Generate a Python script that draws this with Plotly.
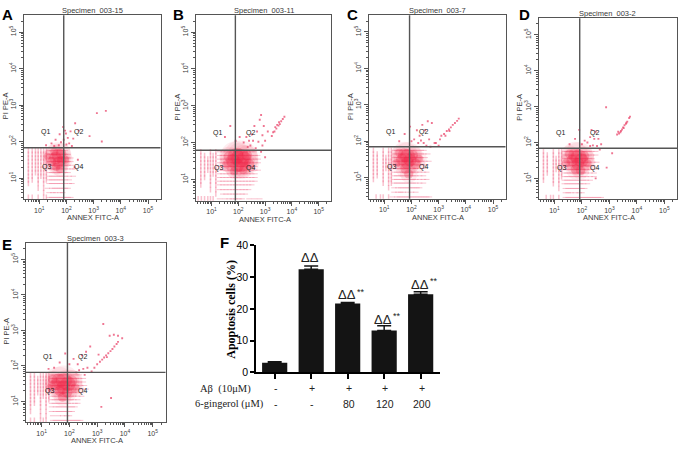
import plotly.graph_objects as go

W, H = 680, 452
RANGE = [0.42, 5.46]
DECADES = [1, 2, 3, 4, 5]

names = ["A", "B", "C", "D", "E"]
titles = ["Specimen_003-15", "Specimen_003-11", "Specimen_003-7", "Specimen_003-2", "Specimen_003-3"]
gate_x = [1.90, 1.89, 1.93, 1.92, 1.93]
gate_y = [1.83, 1.79, 1.85, 1.84, 1.82]

# lattice rows: y level (log10) and the x positions (log10) seen along it
row_y = [1.75, 1.65, 1.55, 1.45, 1.35, 1.25, 1.15, 1.05, 0.95, 0.85, 0.72, 0.60, 0.47]

A_rows = [
    [.6, .74, .86, .96, 1.06, 1.16, 1.26, 1.36, 1.46, 1.56, 1.66, 1.76, 1.86, 1.96],
    [.6, .74, .86, .96, 1.06, 1.16, 1.26, 1.36, 1.46, 1.56, 1.66, 1.76, 1.86, 1.96, 2.06],
    [.6, .74, .86, .96, 1.06, 1.16, 1.26, 1.36, 1.46, 1.56, 1.66, 1.76, 1.86, 1.96, 2.06, 2.16],
    [.6, .74, .86, .96, 1.06, 1.16, 1.26, 1.36, 1.46, 1.56, 1.66, 1.76, 1.86, 1.96, 2.06, 2.16],
    [.6, .74, .86, .96, 1.06, 1.16, 1.26, 1.36, 1.46, 1.56, 1.66, 1.76, 1.86, 1.96, 2.06, 2.2],
    [.6, .74, .86, .96, 1.06, 1.16, 1.26, 1.36, 1.46, 1.56, 1.66, 1.76, 1.86, 1.96, 2.06, 2.2, 2.3],
    [.6, .74, .86, .96, 1.06, 1.16, 1.26, 1.36, 1.46, 1.56, 1.66, 1.76, 1.86, 1.96, 2.06],
    [.6, .74, .96, 1.06, 1.16, 1.26, 1.36, 1.46, 1.56, 1.66, 1.76, 1.86, 1.96, 2.1, 2.25],
    [.6, .74, .96, 1.16, 1.26, 1.36, 1.46, 1.56, 1.66, 1.76, 1.86, 1.96, 2.1],
    [.6, .96, 1.16, 1.36, 1.46, 1.56, 1.66, 1.76, 1.86, 1.96, 2.1, 2.2],
    [.96, 1.16, 1.3, 1.46, 1.56, 1.66, 1.76, 1.86, 1.96, 2.06],
    [1.16, 1.36, 1.5, 1.6, 1.76, 1.86],
    [.6, .74, .96, 1.16, 1.26, 1.36, 1.46, 1.56, 1.66, 1.76, 1.86, 1.96, 2.06, 2.16],
]
B_rows = [
    [.6, .96, 1.16, 1.3, 1.42, 1.54, 1.66, 1.78, 1.9, 2.02, 2.14, 2.26, 2.38, 2.5, 2.6],
    [.6, .74, .96, 1.06, 1.16, 1.3, 1.42, 1.54, 1.66, 1.78, 1.9, 2.02, 2.14, 2.26, 2.38, 2.5, 2.62, 2.72],
    [.6, .74, .86, .96, 1.06, 1.16, 1.3, 1.42, 1.54, 1.66, 1.78, 1.9, 2.02, 2.14, 2.26, 2.38, 2.5, 2.62, 2.74],
    [.6, .74, .86, .96, 1.06, 1.16, 1.3, 1.42, 1.54, 1.66, 1.78, 1.9, 2.02, 2.14, 2.26, 2.38, 2.5, 2.62, 2.74],
    [.6, .74, .86, .96, 1.06, 1.16, 1.3, 1.42, 1.54, 1.66, 1.78, 1.9, 2.02, 2.14, 2.26, 2.38, 2.5, 2.62],
    [.6, .74, .86, .96, 1.06, 1.16, 1.3, 1.42, 1.54, 1.66, 1.78, 1.9, 2.02, 2.14, 2.26, 2.38, 2.5, 2.62, 2.74],
    [.6, .74, .96, 1.06, 1.16, 1.3, 1.42, 1.54, 1.66, 1.78, 1.9, 2.02, 2.14, 2.26, 2.38, 2.5, 2.62],
    [.6, .74, .96, 1.16, 1.3, 1.42, 1.54, 1.66, 1.78, 1.9, 2.02, 2.14, 2.26, 2.38, 2.5, 2.62],
    [.6, .96, 1.16, 1.3, 1.42, 1.54, 1.66, 1.78, 1.9, 2.02, 2.14, 2.26, 2.38, 2.5, 2.62],
    [.6, .96, 1.16, 1.3, 1.42, 1.54, 1.66, 1.78, 1.9, 2.02, 2.14, 2.26, 2.38, 2.5],
    [.96, 1.16, 1.3, 1.42, 1.54, 1.66, 1.78, 1.9, 2.02, 2.14, 2.26, 2.38],
    [1.16, 1.42, 1.54, 1.66, 1.78, 1.9, 2.02, 2.14, 2.26],
    [.5, .62, .74, .86, .96, 1.06, 1.3, 1.5, 1.66, 1.78, 1.9, 2.02, 2.14, 2.4, 2.6, 2.8],
]
C_rows = [
    [.6, .96, 1.16, 1.26, 1.36, 1.46, 1.56, 1.66, 1.76, 1.86, 1.96, 2.06, 2.16, 2.26, 2.36, 2.46],
    [.6, .74, .96, 1.16, 1.26, 1.36, 1.46, 1.56, 1.66, 1.76, 1.86, 1.96, 2.06, 2.16, 2.26, 2.36, 2.46, 2.6],
    [.6, .74, .96, 1.06, 1.16, 1.26, 1.36, 1.46, 1.56, 1.66, 1.76, 1.86, 1.96, 2.06, 2.16, 2.26, 2.36, 2.5],
    [.6, .74, .96, 1.06, 1.16, 1.26, 1.36, 1.46, 1.56, 1.66, 1.76, 1.86, 1.96, 2.06, 2.16, 2.26, 2.36, 2.5, 2.64],
    [.6, .74, .96, 1.06, 1.16, 1.26, 1.36, 1.46, 1.56, 1.66, 1.76, 1.86, 1.96, 2.06, 2.16, 2.26, 2.4, 2.54],
    [.6, .74, .96, 1.06, 1.16, 1.26, 1.36, 1.46, 1.56, 1.66, 1.76, 1.86, 1.96, 2.06, 2.16, 2.3, 2.44],
    [.6, .74, .96, 1.16, 1.26, 1.36, 1.46, 1.56, 1.66, 1.76, 1.86, 1.96, 2.06, 2.16, 2.3, 2.44, 2.56],
    [.6, .74, .96, 1.16, 1.26, 1.36, 1.46, 1.56, 1.66, 1.76, 1.86, 1.96, 2.06, 2.16, 2.3, 2.44],
    [.6, .96, 1.16, 1.26, 1.36, 1.46, 1.56, 1.66, 1.76, 1.86, 1.96, 2.06, 2.16, 2.3, 2.44, 2.56],
    [.96, 1.16, 1.26, 1.36, 1.46, 1.56, 1.66, 1.76, 1.86, 1.96, 2.06, 2.16, 2.3, 2.44],
    [1.16, 1.36, 1.5, 1.6, 1.7, 1.8, 1.9, 2.0, 2.1, 2.2, 2.3],
    [1.36, 1.5, 1.6, 1.7, 1.86, 2.0, 2.16],
    [.7, .86, .96, 1.16, 1.3, 1.46, 1.56, 1.66, 1.76, 1.86, 1.96, 2.06, 2.16, 2.26, 2.36, 2.46, 2.56, 2.66],
]
D_rows = [
    [.6, .96, 1.16, 1.26, 1.36, 1.46, 1.56, 1.66, 1.76, 1.86, 1.96, 2.06, 2.16, 2.26, 2.36, 2.5],
    [.6, .74, .96, 1.16, 1.26, 1.36, 1.46, 1.56, 1.66, 1.76, 1.86, 1.96, 2.06, 2.16, 2.26, 2.36, 2.5],
    [.6, .74, .96, 1.06, 1.16, 1.26, 1.36, 1.46, 1.56, 1.66, 1.76, 1.86, 1.96, 2.06, 2.16, 2.26, 2.36],
    [.6, .74, .96, 1.06, 1.16, 1.26, 1.36, 1.46, 1.56, 1.66, 1.76, 1.86, 1.96, 2.06, 2.16, 2.26, 2.4, 2.54],
    [.6, .74, .96, 1.06, 1.16, 1.26, 1.36, 1.46, 1.56, 1.66, 1.76, 1.86, 1.96, 2.06, 2.16, 2.26, 2.4],
    [.6, .74, .96, 1.06, 1.16, 1.26, 1.36, 1.46, 1.56, 1.66, 1.76, 1.86, 1.96, 2.06, 2.16, 2.3, 2.44],
    [.6, .74, .96, 1.16, 1.26, 1.36, 1.46, 1.56, 1.66, 1.76, 1.86, 1.96, 2.06, 2.16, 2.3, 2.44],
    [.6, .96, 1.16, 1.26, 1.36, 1.46, 1.56, 1.66, 1.76, 1.86, 1.96, 2.06, 2.16, 2.3, 2.44],
    [.6, .96, 1.16, 1.36, 1.46, 1.56, 1.66, 1.76, 1.86, 1.96, 2.06, 2.16, 2.3],
    [.96, 1.16, 1.36, 1.46, 1.56, 1.66, 1.76, 1.86, 1.96, 2.06, 2.2],
    [1.16, 1.4, 1.5, 1.6, 1.7, 1.8, 1.9, 2.0, 2.1],
    [1.4, 1.5, 1.6, 1.76, 1.9, 2.0],
    [.7, .86, .96, 1.16, 1.4, 1.5, 1.6, 1.7, 1.8, 1.9, 2.0, 2.1, 2.2, 2.3, 2.4, 2.5, 2.6, 2.7],
]
E_rows = [
    [.6, .74, .96, 1.06, 1.16, 1.26, 1.36, 1.46, 1.56, 1.66, 1.76, 1.86, 1.96, 2.06, 2.16, 2.26, 2.36],
    [.6, .74, .86, .96, 1.06, 1.16, 1.26, 1.36, 1.46, 1.56, 1.66, 1.76, 1.86, 1.96, 2.06, 2.16, 2.26, 2.36, 2.5],
    [.6, .74, .86, .96, 1.06, 1.16, 1.26, 1.36, 1.46, 1.56, 1.66, 1.76, 1.86, 1.96, 2.06, 2.16, 2.26, 2.36, 2.5],
    [.6, .74, .86, .96, 1.06, 1.16, 1.26, 1.36, 1.46, 1.56, 1.66, 1.76, 1.86, 1.96, 2.06, 2.16, 2.26, 2.4, 2.54],
    [.6, .74, .86, .96, 1.06, 1.16, 1.26, 1.36, 1.46, 1.56, 1.66, 1.76, 1.86, 1.96, 2.06, 2.16, 2.3, 2.44, 2.6],
    [.6, .74, .86, .96, 1.06, 1.16, 1.26, 1.36, 1.46, 1.56, 1.66, 1.76, 1.86, 1.96, 2.06, 2.16, 2.3, 2.44],
    [.6, .74, .96, 1.06, 1.16, 1.26, 1.36, 1.46, 1.56, 1.66, 1.76, 1.86, 1.96, 2.06, 2.16, 2.3, 2.44],
    [.6, .74, .96, 1.16, 1.26, 1.36, 1.46, 1.56, 1.66, 1.76, 1.86, 1.96, 2.06, 2.16, 2.3],
    [.6, .74, .96, 1.16, 1.36, 1.46, 1.56, 1.66, 1.76, 1.86, 1.96, 2.06, 2.2, 2.3],
    [.6, .96, 1.16, 1.36, 1.5, 1.6, 1.7, 1.8, 1.9, 2.0, 2.1, 2.2],
    [.6, .96, 1.16, 1.36, 1.5, 1.6, 1.7, 1.8, 1.9, 2.0, 2.1],
    [.96, 1.16, 1.4, 1.6, 1.76, 1.9, 2.0],
    [.6, .74, .96, 1.06, 1.16, 1.4, 1.5, 1.6, 1.7, 1.8, 1.9, 2.0, 2.1, 2.2, 2.3, 2.4],
]

# dense core of each cloud: centre (log10) and relative weight
A_core_x = [1.70, 1.60, 1.80, 1.70, 1.55, 1.82, 1.45, 1.62, 1.76, 1.30, 1.95]
A_core_y = [1.62, 1.55, 1.68, 1.42, 1.72, 1.48, 1.45, 1.30, 1.25, 1.60, 1.50]
A_core_s = [12, 11, 9, 10, 7, 8, 8, 7, 7, 6, 7]
B_core_x = [2.08, 1.90, 2.22, 1.80, 2.10, 1.95, 2.32, 1.65, 2.00, 2.40, 1.55, 1.85, 2.18]
B_core_y = [1.58, 1.62, 1.55, 1.50, 1.40, 1.38, 1.66, 1.62, 1.72, 1.42, 1.40, 1.22, 1.25]
B_core_s = [16, 14, 13, 12, 13, 12, 9, 9, 9, 9, 7, 7, 7]
C_core_x = [1.86, 1.75, 1.95, 1.85, 1.65, 2.05, 1.78, 1.55, 2.15, 1.90, 1.45, 2.28]
C_core_y = [1.58, 1.62, 1.48, 1.40, 1.50, 1.62, 1.25, 1.68, 1.38, 1.10, 1.40, 1.52]
C_core_s = [13, 12, 11, 11, 10, 9, 9, 7, 9, 8, 7, 7]
D_core_x = [1.88, 1.75, 1.98, 1.85, 1.65, 2.08, 1.55, 1.78, 1.95, 1.42, 2.20]
D_core_y = [1.58, 1.65, 1.50, 1.40, 1.50, 1.62, 1.68, 1.25, 1.22, 1.42, 1.42]
D_core_s = [14, 12, 12, 11, 10, 9, 8, 9, 8, 7, 7]
E_core_x = [1.80, 1.62, 1.95, 1.78, 1.50, 2.08, 1.65, 1.92, 1.40, 2.20, 1.75, 1.30]
E_core_y = [1.58, 1.58, 1.50, 1.40, 1.48, 1.58, 1.30, 1.26, 1.62, 1.38, 1.12, 1.40]
E_core_s = [14, 13, 13, 12, 10, 10, 9, 9, 8, 8, 8, 6]

# scattered events outside the lattice
A_sc_x = [3.12, 3.45, 2.32, 2.45, 2.85, 3.30, 1.88, 1.75, 1.98, 2.15, 2.25, 2.05, 1.60, 1.45, 1.80, 2.00, 2.10, 1.90, 2.20, 1.25, 1.55, 1.72, 1.95, 2.30, 2.42]
A_sc_y = [2.78, 2.84, 2.50, 2.30, 2.15, 2.00, 2.40, 2.20, 2.22, 2.28, 2.08, 2.10, 2.05, 1.95, 1.98, 1.92, 1.95, 2.05, 1.88, 1.90, 1.88, 1.90, 2.30, 1.30, 1.50]
B_sc_x = [3.25, 3.35, 3.42, 3.50, 3.55, 3.60, 3.66, 3.72, 3.45, 3.38, 3.52, 3.30, 3.10, 2.95, 2.80, 2.70, 2.60, 2.50, 2.40, 2.30, 2.20, 2.55, 2.75, 2.90, 2.45, 2.65, 2.35, 2.85, 1.70, 1.50, 1.90, 2.05, 2.90, 3.00, 2.85, 3.00]
B_sc_y = [2.18, 2.30, 2.38, 2.46, 2.50, 2.58, 2.64, 2.70, 2.48, 2.42, 2.55, 2.28, 2.30, 2.45, 2.62, 2.30, 2.45, 2.22, 2.05, 2.15, 2.00, 2.05, 2.02, 1.92, 1.92, 1.85, 1.88, 1.75, 2.45, 2.15, 2.05, 2.15, 2.20, 2.05, 2.75, 1.60]
C_sc_x = [3.10, 3.20, 3.30, 3.38, 3.45, 3.52, 3.60, 3.68, 3.74, 3.25, 3.40, 3.05, 2.90, 2.75, 2.60, 2.50, 2.40, 2.30, 2.20, 2.10, 1.95, 1.75, 1.55, 2.85, 2.65, 2.45, 2.35, 2.70, 2.55, 3.00, 2.00, 2.25]
C_sc_y = [2.15, 2.20, 2.28, 2.32, 2.38, 2.45, 2.50, 2.56, 2.62, 2.15, 2.28, 2.05, 1.95, 2.50, 2.55, 2.30, 2.45, 2.15, 2.30, 2.05, 2.40, 2.20, 2.00, 1.95, 2.05, 1.95, 2.02, 1.85, 1.88, 1.88, 2.00, 1.95]
D_sc_x = [3.28, 3.35, 3.42, 3.46, 3.50, 3.55, 3.60, 3.65, 3.72, 3.75, 3.40, 3.52, 3.32, 3.62, 2.88, 2.35, 2.50, 2.60, 2.45, 2.30, 2.20, 2.10, 2.00, 1.90, 1.75, 1.55, 2.70, 2.55, 2.40, 2.65, 2.30, 3.10, 2.90, 2.50]
D_sc_y = [2.22, 2.25, 2.32, 2.36, 2.42, 2.48, 2.52, 2.58, 2.68, 2.72, 2.28, 2.40, 2.30, 2.55, 2.98, 2.35, 2.30, 2.10, 2.10, 2.15, 2.00, 2.05, 1.95, 2.35, 2.10, 1.95, 1.95, 1.90, 1.92, 1.80, 1.90, 1.70, 1.30, 1.00]
E_sc_x = [3.10, 3.18, 3.25, 3.32, 3.40, 3.48, 3.55, 3.62, 3.70, 3.75, 3.35, 3.00, 2.90, 3.05, 3.22, 3.90, 3.75, 3.60, 3.45, 2.75, 2.60, 2.45, 2.30, 2.15, 2.00, 1.85, 1.65, 1.45, 1.25, 2.65, 2.50, 2.35, 2.80, 2.55, 2.25, 3.50, 3.15]
E_sc_y = [2.12, 2.18, 2.24, 2.30, 2.36, 2.42, 2.48, 2.55, 2.62, 2.68, 2.25, 2.05, 1.95, 2.32, 3.18, 2.78, 2.85, 2.88, 2.85, 2.55, 2.40, 2.30, 2.05, 2.20, 2.05, 2.35, 2.10, 1.95, 1.92, 1.95, 1.92, 1.88, 1.85, 1.75, 1.82, 1.10, 0.85]

# pixel boxes of the panels: left, right, top, bottom
boxes = [(23.5, 160.5, 9.5, 198.5), (196, 331, 9.5, 200), (368.5, 505.5, 9.5, 198), (538.5, 677, 12.5, 198.5), (25.5, 165.5, 243.5, 427.5)]
letter_pos = [(7, 9), (178, 9), (352, 9), (524, 9), (7, 245)]

# bar panel
bar_labels = ["ctrl", "Abeta", "Abeta+80", "Abeta+120", "Abeta+200"]
bar_values = [3.0, 32.5, 21.7, 13.2, 24.6]
bar_errors = [0.3, 1.0, 0.3, 1.5, 0.8]
delta_idx = [1, 2, 3, 4]
delta_y = [36.3, 24.4, 16.7, 27.8]
star_idx = [2, 3, 4]
row1 = ["-", "+", "+", "+", "+"]
row2 = ["-", "-", "80", "120", "200"]

all_rows = [A_rows, B_rows, C_rows, D_rows, E_rows]
cores = [(A_core_x, A_core_y, A_core_s), (B_core_x, B_core_y, B_core_s), (C_core_x, C_core_y, C_core_s),
         (D_core_x, D_core_y, D_core_s), (E_core_x, E_core_y, E_core_s)]
scatters = [(A_sc_x, A_sc_y), (B_sc_x, B_sc_y), (C_sc_x, C_sc_y), (D_sc_x, D_sc_y), (E_sc_x, E_sc_y)]


def px(x):
    return x / W


def py(y):
    return 1 - y / H


def lg(v):
    return [10 ** a for a in v]


major = [10 ** d for d in DECADES]
ticktext = [f"10<sup>{d}</sup>" for d in DECADES]

fig = go.Figure()
layout = {}
annots = []
shapes = []
GRAY = "#555555"
TXT = "#3a3a3a"

for i, name in enumerate(names):
    l, r, t, b = boxes[i]
    sx = "" if i == 0 else str(i + 1)
    xa, ya = f"x{sx}", f"y{sx}"
    common = dict(type="log", range=RANGE, showgrid=False, zeroline=False, showline=True, linecolor=GRAY,
                  linewidth=1, mirror=True, ticks="outside", ticklen=4, tickwidth=1, tickcolor=GRAY,
                  tickmode="array", tickvals=major, ticktext=ticktext,
                  tickfont=dict(family="Liberation Sans", size=7, color=TXT),
                  minor=dict(dtick="D1", ticks="outside", ticklen=2, tickwidth=.8, tickcolor=GRAY, showgrid=False))
    layout[f"xaxis{sx}"] = dict(common, domain=[px(l), px(r)], anchor=ya, tickangle=0)
    layout[f"yaxis{sx}"] = dict(common, domain=[py(b), py(t)], anchor=xa, tickangle=-90)

    xs, ys = [], []
    for yv, row in zip(row_y, all_rows[i]):
        xs += row
        ys += [yv] * len(row)
    # left columns read as vertical stripes, the rest as horizontal dashes
    lx_, ly_ = [a for a in xs if a < 1.3], [c for a, c in zip(xs, ys) if a < 1.3]
    rx_, ry_ = [a for a in xs if a >= 1.3], [c for a, c in zip(xs, ys) if a >= 1.3]
    fig.add_trace(go.Scatter(x=lg(lx_), y=lg(ly_), mode="markers", xaxis=xa, yaxis=ya, showlegend=False,
                             marker=dict(symbol="line-ns", size=4, color="rgba(240,110,140,.42)",
                                         line=dict(width=1.5, color="rgba(240,110,140,.42)"))))
    fig.add_trace(go.Scatter(x=lg(rx_), y=lg(ry_), mode="markers", xaxis=xa, yaxis=ya, showlegend=False,
                             marker=dict(symbol="line-ew", size=4, color="rgba(240,110,140,.42)",
                                         line=dict(width=1, color="rgba(240,110,140,.42)"))))
    cx, cy, cs = cores[i]
    fig.add_trace(go.Scatter(x=lg(cx), y=lg(cy), mode="markers", xaxis=xa, yaxis=ya, showlegend=False,
                             marker=dict(size=[s * 2.2 for s in cs], color="rgba(242,50,90,.13)", line=dict(width=0))))
    fig.add_trace(go.Scatter(x=lg(cx), y=lg(cy), mode="markers", xaxis=xa, yaxis=ya, showlegend=False,
                             marker=dict(size=[s * 1.15 for s in cs], color="rgba(240,25,60,.36)", line=dict(width=0))))
    scx, scy = scatters[i]
    fig.add_trace(go.Scatter(x=lg(scx), y=lg(scy), mode="markers", xaxis=xa, yaxis=ya, showlegend=False,
                             marker=dict(symbol="square", size=1.9, color="rgba(232,60,100,.7)", line=dict(width=0))))

    shapes.append(dict(type="line", xref=xa, yref=f"{ya} domain", x0=10 ** gate_x[i], x1=10 ** gate_x[i], y0=0, y1=1,
                       line=dict(color="#555555", width=1.4)))
    shapes.append(dict(type="line", xref=f"{xa} domain", yref=ya, x0=0, x1=1, y0=10 ** gate_y[i], y1=10 ** gate_y[i],
                       line=dict(color="#555555", width=1.4)))

    cxm = (l + r) / 2
    annots.append(dict(x=px(cxm), y=py(t - 4.5), xref="paper", yref="paper", text=titles[i], showarrow=False,
                       font=dict(family="Liberation Sans", size=7.5, color=TXT)))
    annots.append(dict(x=px(cxm + 1), y=py(b + 19), xref="paper", yref="paper", text="ANNEX FITC-A", showarrow=False,
                       font=dict(family="Liberation Sans", size=7.5, color=TXT)))
    annots.append(dict(x=px(l - 18.5), y=py((t + b) / 2 - 1), xref="paper", yref="paper", text="PI PE-A", textangle=-90,
                       showarrow=False, font=dict(family="Liberation Sans", size=7.5, color=TXT)))
    for tx, qx, qy in [("Q1", 1.22, 2.25), ("Q2", 2.46, 2.25), ("Q3", 1.27, 1.30), ("Q4", 2.46, 1.30)]:
        annots.append(dict(x=qx, y=qy, xref=xa, yref=ya, text=tx, showarrow=False,
                           font=dict(family="Liberation Sans", size=7, color="#222222")))
    lx, ly = letter_pos[i]
    annots.append(dict(x=px(lx), y=py(ly), xref="paper", yref="paper", text=f"<b>{name}</b>", showarrow=False,
                       font=dict(family="Liberation Sans", size=15, color="black")))

# bars
bar_pos = list(range(len(bar_values)))
fig.add_trace(go.Bar(x=bar_pos, y=bar_values, width=0.69, xaxis="x6", yaxis="y6", showlegend=False,
                     marker=dict(color="#141414", line=dict(width=0)),
                     error_y=dict(type="data", array=bar_errors, symmetric=False, arrayminus=[0] * 5,
                                  color="#141414", thickness=1.5, width=7)))
layout["xaxis6"] = dict(domain=[px(256), px(440)], anchor="y6", range=[-0.512, 4.53], showgrid=False, zeroline=False,
                        showline=True, linecolor="black", linewidth=1.5, ticks="outside", ticklen=5, tickwidth=1.5,
                        tickcolor="black", tickmode="array", tickvals=bar_pos, showticklabels=False)
layout["yaxis6"] = dict(domain=[py(376.3), py(246)], anchor="x6", range=[0, 40], showgrid=False, zeroline=False,
                        showline=True, linecolor="black", linewidth=1.5, ticks="outside", ticklen=4, tickwidth=1.5,
                        tickcolor="black", tickmode="array", tickvals=[0, 10, 20, 30, 40],
                        tickfont=dict(family="Liberation Sans", size=10.5, color="black"),
                        tickprefix="<b>", ticksuffix="</b>")
for k, yv in zip(delta_idx, delta_y):
    annots.append(dict(x=k, y=yv, xref="x6", yref="y6", text="ΔΔ", showarrow=False, xshift=-1,
                       font=dict(family="Liberation Sans", size=13, color="#222222")))
    if k in star_idx:
        annots.append(dict(x=k, y=yv + 1, xref="x6", yref="y6", text="**", showarrow=False, xshift=13,
                           font=dict(family="Liberation Sans", size=9, color="#222222")))
for k in bar_pos:
    annots.append(dict(x=k, y=py(392.5), xref="x6", yref="paper", text=row1[k], showarrow=False, xshift=1,
                       font=dict(family="Liberation Sans", size=10.5, color="#222222")))
    annots.append(dict(x=k, y=py(409), xref="x6", yref="paper", text=row2[k], showarrow=False, xshift=1,
                       font=dict(family="Liberation Sans", size=10.5, color="#222222")))
annots.append(dict(x=px(252.5), y=py(393), xref="paper", yref="paper", text="Aβ  (10μM)", showarrow=False, xanchor="right",
                   font=dict(family="Liberation Serif", size=10.5, color="#222222")))
annots.append(dict(x=px(266), y=py(409), xref="paper", yref="paper", text="6-gingerol (μM)", showarrow=False, xanchor="right",
                   font=dict(family="Liberation Serif", size=10.5, color="#222222")))
annots.append(dict(x=px(231), y=py(312), xref="paper", yref="paper", text="<b>Apoptosis cells (%)</b>", textangle=-90,
                   showarrow=False, font=dict(family="Liberation Serif", size=12, color="black")))
annots.append(dict(x=px(224), y=py(243), xref="paper", yref="paper", text="<b>F</b>", showarrow=False,
                   font=dict(family="Liberation Sans", size=15, color="black")))

for a in annots:
    a.setdefault("xanchor", "center")
    a.setdefault("yanchor", "middle")

fig.update_layout(width=W, height=H, margin=dict(l=0, r=0, t=0, b=0), paper_bgcolor="white", plot_bgcolor="white",
                  annotations=annots, shapes=shapes, **layout)
fig.write_html("out.html", config=dict(displayModeBar=False),
               post_script="document.body.style.margin='0';document.body.style.overflow='hidden';")
